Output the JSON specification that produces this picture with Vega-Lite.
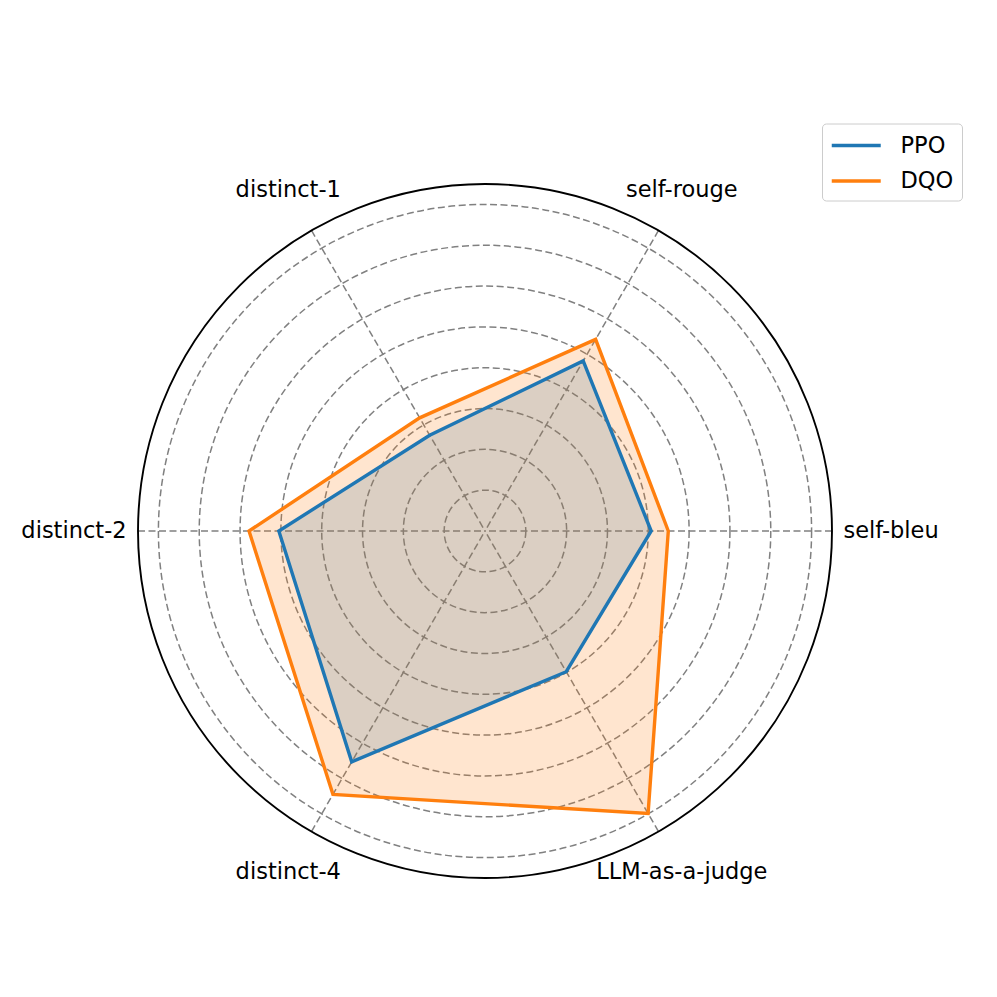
{
  "$schema": "https://vega.github.io/schema/vega-lite/v6.json",
  "width": 694,
  "height": 694,
  "autosize": {"type": "none"},
  "padding": {"left": 138, "top": 184, "right": 165, "bottom": 119},
  "background": "white",
  "config": {"view": {"stroke": null}, "font": "DejaVu Sans"},
  "datasets": {
    "scores": [
      {"series": "PPO", "metric": "self-bleu", "value": 4.07},
      {"series": "PPO", "metric": "self-rouge", "value": 4.81},
      {"series": "PPO", "metric": "distinct-1", "value": 2.71},
      {"series": "PPO", "metric": "distinct-2", "value": 5.05},
      {"series": "PPO", "metric": "distinct-4", "value": 6.53},
      {"series": "PPO", "metric": "LLM-as-a-judge", "value": 3.98},
      {"series": "DQO", "metric": "self-bleu", "value": 4.49},
      {"series": "DQO", "metric": "self-rouge", "value": 5.42},
      {"series": "DQO", "metric": "distinct-1", "value": 3.2},
      {"series": "DQO", "metric": "distinct-2", "value": 5.78},
      {"series": "DQO", "metric": "distinct-4", "value": 7.45},
      {"series": "DQO", "metric": "LLM-as-a-judge", "value": 7.99}
    ],
    "metrics": [
      {"metric": "self-bleu"},
      {"metric": "self-rouge"},
      {"metric": "distinct-1"},
      {"metric": "distinct-2"},
      {"metric": "distinct-4"},
      {"metric": "LLM-as-a-judge"}
    ],
    "rings": [{"r": 1}, {"r": 2}, {"r": 3}, {"r": 4}, {"r": 5}, {"r": 6}, {"r": 7}, {"r": 8}],
    "outer": [{"r": 8.5}]
  },
  "layer": [
    {
      "data": {"name": "rings"},
      "mark": {"type": "point", "shape": "circle", "filled": false, "stroke": "#808080", "strokeWidth": 1.5, "strokeDash": [7, 3.5], "opacity": 1},
      "encoding": {
        "x": {"datum": 0, "type": "quantitative", "scale": {"domain": [-8.5, 8.5], "nice": false, "zero": false}, "axis": null},
        "y": {"datum": 0, "type": "quantitative", "scale": {"domain": [-8.5, 8.5], "nice": false, "zero": false}, "axis": null},
        "size": {"field": "r", "type": "quantitative", "legend": null, "scale": {"type": "pow", "exponent": 2, "domain": [0, 8.5], "range": [0, 481636], "zero": true, "nice": false}}
      }
    },
    {
      "data": {"name": "metrics"},
      "transform": [
        {"calculate": "indexof(['self-bleu','self-rouge','distinct-1','distinct-2','distinct-4','LLM-as-a-judge'], datum.metric)", "as": "k"},
        {"calculate": "datum.k * PI / 3", "as": "theta"},
        {"calculate": "8.5 * cos(datum.theta)", "as": "ex"},
        {"calculate": "8.5 * sin(datum.theta)", "as": "ey"}
      ],
      "mark": {"type": "rule", "stroke": "#808080", "strokeWidth": 1.5, "strokeDash": [7, 3.5]},
      "encoding": {
        "x": {"field": "ex", "type": "quantitative"},
        "y": {"field": "ey", "type": "quantitative"},
        "x2": {"datum": 0},
        "y2": {"datum": 0}
      }
    },
    {
      "data": {"name": "scores"},
      "transform": [
        {"calculate": "indexof(['self-bleu','self-rouge','distinct-1','distinct-2','distinct-4','LLM-as-a-judge'], datum.metric)", "as": "k"},
        {"calculate": "datum.k * PI / 3", "as": "theta"},
        {"calculate": "datum.value * cos(datum.theta)", "as": "px"},
        {"calculate": "datum.value * sin(datum.theta)", "as": "py"}
      ],
      "layer": [
        {
          "transform": [{"filter": "datum.series == 'PPO'"}],
          "mark": {"type": "line", "interpolate": "linear-closed", "fill": "#1f77b4", "fillOpacity": 0.2, "strokeWidth": 0, "stroke": null},
          "encoding": {
            "x": {"field": "px", "type": "quantitative"},
            "y": {"field": "py", "type": "quantitative"},
            "order": {"field": "k", "type": "quantitative"}
          }
        },
        {
          "transform": [{"filter": "datum.series == 'DQO'"}],
          "mark": {"type": "line", "interpolate": "linear-closed", "fill": "#ff7f0e", "fillOpacity": 0.2, "strokeWidth": 0, "stroke": null},
          "encoding": {
            "x": {"field": "px", "type": "quantitative"},
            "y": {"field": "py", "type": "quantitative"},
            "order": {"field": "k", "type": "quantitative"}
          }
        },
        {
          "transform": [{"filter": "datum.series == 'PPO'"}],
          "mark": {"type": "line", "interpolate": "linear-closed", "strokeWidth": 3.4},
          "encoding": {
            "x": {"field": "px", "type": "quantitative"},
            "y": {"field": "py", "type": "quantitative"},
            "order": {"field": "k", "type": "quantitative"},
            "color": {"field": "series", "type": "nominal", "title": null,
              "scale": {"domain": ["PPO", "DQO"], "range": ["#1f77b4", "#ff7f0e"]},
              "legend": {"orient": "none", "legendX": 684, "legendY": -60.5, "padding": 8,
                "fillColor": "white", "strokeColor": "#cccccc", "cornerRadius": 4,
                "symbolType": "M-1,0H3", "symbolSize": 600, "symbolStrokeWidth": 3.4,
                "symbolFillColor": "transparent",
                "labelFontSize": 22.5, "labelFont": "DejaVu Sans", "labelColor": "black",
                "labelOffset": 42.5, "rowPadding": 9.5}}
          }
        },
        {
          "transform": [{"filter": "datum.series == 'DQO'"}],
          "mark": {"type": "line", "interpolate": "linear-closed", "strokeWidth": 3.4},
          "encoding": {
            "x": {"field": "px", "type": "quantitative"},
            "y": {"field": "py", "type": "quantitative"},
            "order": {"field": "k", "type": "quantitative"},
            "color": {"field": "series", "type": "nominal"}
          }
        }
      ]
    },
    {
      "data": {"name": "outer"},
      "mark": {"type": "point", "shape": "circle", "filled": false, "stroke": "black", "strokeWidth": 1.9, "opacity": 1},
      "encoding": {
        "x": {"datum": 0, "type": "quantitative"},
        "y": {"datum": 0, "type": "quantitative"},
        "size": {"field": "r", "type": "quantitative", "legend": null}
      }
    },
    {
      "data": {"name": "metrics"},
      "transform": [
        {"calculate": "indexof(['self-bleu','self-rouge','distinct-1','distinct-2','distinct-4','LLM-as-a-judge'], datum.metric)", "as": "k"},
        {"calculate": "datum.k * PI / 3", "as": "theta"},
        {"calculate": "datum.k % 3 == 0 ? 8.78 : 9.64", "as": "lr"},
        {"calculate": "datum.lr * cos(datum.theta)", "as": "lx"},
        {"calculate": "datum.lr * sin(datum.theta)", "as": "ly"}
      ],
      "layer": [
        {
          "transform": [{"filter": "datum.k == 0"}],
          "mark": {"type": "text", "align": "left", "baseline": "middle", "fontSize": 22.5, "font": "DejaVu Sans", "color": "black"},
          "encoding": {"x": {"field": "lx", "type": "quantitative"}, "y": {"field": "ly", "type": "quantitative"}, "text": {"field": "metric", "type": "nominal"}}
        },
        {
          "transform": [{"filter": "datum.k == 3"}],
          "mark": {"type": "text", "align": "right", "baseline": "middle", "fontSize": 22.5, "font": "DejaVu Sans", "color": "black"},
          "encoding": {"x": {"field": "lx", "type": "quantitative"}, "y": {"field": "ly", "type": "quantitative"}, "text": {"field": "metric", "type": "nominal"}}
        },
        {
          "transform": [{"filter": "datum.k % 3 != 0"}],
          "mark": {"type": "text", "align": "center", "baseline": "middle", "fontSize": 22.5, "font": "DejaVu Sans", "color": "black"},
          "encoding": {"x": {"field": "lx", "type": "quantitative"}, "y": {"field": "ly", "type": "quantitative"}, "text": {"field": "metric", "type": "nominal"}}
        }
      ]
    }
  ]
}
